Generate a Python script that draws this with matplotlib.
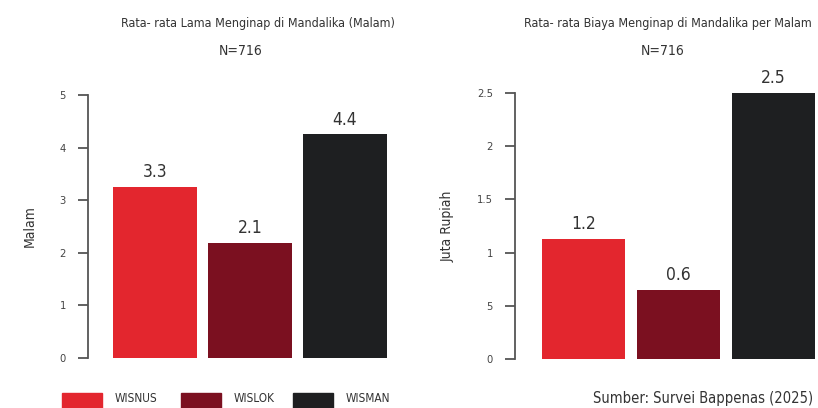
import matplotlib
matplotlib.use("Agg")
import matplotlib.pyplot as plt
from matplotlib.patches import Rectangle

plt.rcParams['font.family'] = ['Liberation Sans Narrow', 'DejaVu Sans']
plt.rcParams['font.stretch'] = 'condensed'

categories = ['WISNUS', 'WISLOK', 'WISMAN']
colors = ['#E3262E', '#7B1020', '#1E1F21']

# chart 1: lama menginap
stay_values = [3.25, 2.19, 4.25]
stay_labels = ['3.3', '2.1', '4.4']
stay_ticks = [0, 1, 2, 3, 4, 5]
stay_ticklabels = ['0', '1', '2', '3', '4', '5']

# chart 2: biaya menginap
cost_values = [1.13, 0.65, 2.5]
cost_labels = ['1.2', '0.6', '2.5']
cost_ticks = [0, 0.5, 1, 1.5, 2, 2.5]
cost_ticklabels = ['0', '5', '1', '1.5', '2', '2.5']

W, H = 818, 408
fig = plt.figure(figsize=(W / 100, H / 100), dpi=100)
TXT = '#333333'


def px_axes(left, right, top, bottom):
    return fig.add_axes([left / W, 1 - bottom / H, (right - left) / W, (bottom - top) / H])


def draw(ax, values, labels, ticks, ticklabels, ylim, ylabel, xlim):
    xs = range(len(values))
    ax.bar(xs, values, width=0.88, color=colors, edgecolor='none')
    for x, v, lab in zip(xs, values, labels):
        ax.annotate(lab, (x, v), xytext=(0, 4), textcoords='offset points',
                    ha='center', va='bottom', fontsize=12.5, color=TXT)
    ax.set_xlim(*xlim)
    ax.set_ylim(*ylim)
    ax.set_yticks(ticks)
    ax.set_yticklabels(ticklabels)
    ax.set_xticks([])
    for s in ['top', 'right', 'bottom']:
        ax.spines[s].set_visible(False)
    ax.spines['left'].set_color('#555555')
    ax.spines['left'].set_linewidth(1.3)
    ax.tick_params(axis='y', length=7, width=1.3, color='#555555', pad=9,
                   labelsize=8, labelcolor='#444444')
    ax.set_ylabel(ylabel, fontsize=10, color=TXT, labelpad=16)
    ax.set_facecolor('none')


ax1 = px_axes(88, 390, 95, 358)
draw(ax1, stay_values, stay_labels, stay_ticks, stay_ticklabels, (0, 5), 'Malam', (-0.705, 2.474))

ax2 = px_axes(515, 818, 93, 359)
draw(ax2, cost_values, cost_labels, cost_ticks, cost_ticklabels, (0, 2.5), 'Juta Rupiah', (-0.72, 2.468))

fig.text(258 / W, 1 - 23 / H, 'Rata- rata Lama Menginap di Mandalika (Malam)',
         ha='center', va='center', fontsize=9, color=TXT)
fig.text(241 / W, 1 - 51 / H, 'N=716', ha='center', va='center', fontsize=10, color=TXT)
fig.text(668 / W, 1 - 23 / H, 'Rata- rata Biaya Menginap di Mandalika per Malam',
         ha='center', va='center', fontsize=9, color=TXT)
fig.text(663 / W, 1 - 51 / H, 'N=716', ha='center', va='center', fontsize=10, color=TXT)

# legend at the bottom
leg_x = [62, 181, 293]
for x, cat, col in zip(leg_x, categories, colors):
    fig.add_artist(Rectangle((x / W, 0), 40 / W, (H - 393) / H,
                             transform=fig.transFigure, color=col))
    fig.text((x + 53) / W, 1 - 398 / H, cat, ha='left', va='center', fontsize=8.5, color=TXT)

fig.text(813 / W, 1 - 398 / H, 'Sumber: Survei Bappenas (2025)', ha='right', va='center',
         fontsize=10.5, color=TXT)

fig.savefig('out.png', dpi=100, facecolor='white')
